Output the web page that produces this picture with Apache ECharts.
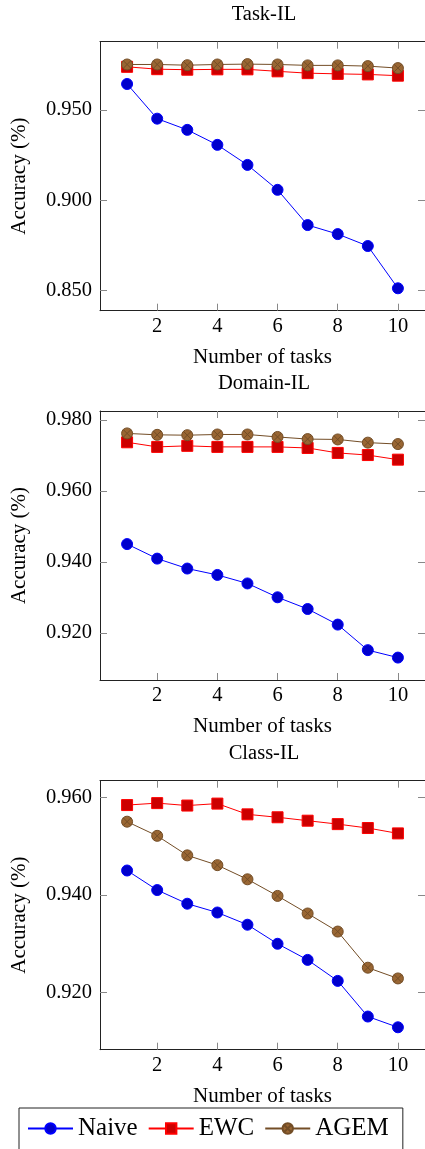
<!DOCTYPE html>
<html>
<head>
<meta charset="utf-8">
<script src="https://cdn.jsdelivr.net/npm/echarts@6.0.0/dist/echarts.min.js"></script>
<style>
html, body { margin: 0; padding: 0; background: #fff; }
#chart { width: 425px; height: 1149px; }
</style>
</head>
<body>
<div id="chart"></div>
<script>
// x values (number of tasks) and tick labels
const tasks = [1, 2, 3, 4, 5, 6, 7, 8, 9, 10];
const xTicks = [2, 4, 6, 8, 10];
const panelTitles = ['Task-IL', 'Domain-IL', 'Class-IL'];
const methodNames = ['Naive', 'EWC', 'AGEM'];

const yTicksTask = [0.85, 0.90, 0.95];
const yTicksDomain = [0.92, 0.94, 0.96, 0.98];
const yTicksClass = [0.92, 0.94, 0.96];

// Task-IL
const naiveTask = [0.9644, 0.9452, 0.9390, 0.9307, 0.9196, 0.9058, 0.8863, 0.8813, 0.8747, 0.8513];
const ewcTask = [0.9739, 0.9726, 0.9723, 0.9725, 0.9725, 0.9714, 0.9704, 0.9700, 0.9697, 0.9690];
const agemTask = [0.9752, 0.9752, 0.9748, 0.9752, 0.9754, 0.9752, 0.9747, 0.9747, 0.9743, 0.9732];

// Domain-IL
const naiveDomain = [0.9450, 0.9409, 0.9381, 0.9363, 0.9339, 0.9300, 0.9267, 0.9223, 0.9151, 0.9130];
const ewcDomain = [0.9737, 0.9724, 0.9727, 0.9724, 0.9724, 0.9724, 0.9721, 0.9707, 0.9701, 0.9688];
const agemDomain = [0.9762, 0.9758, 0.9757, 0.9759, 0.9759, 0.9752, 0.9746, 0.9745, 0.9736, 0.9732];

// Class-IL
const naiveClass = [0.9450, 0.9410, 0.9382, 0.9364, 0.9339, 0.9300, 0.9267, 0.9224, 0.9151, 0.9129];
const ewcClass = [0.9584, 0.9588, 0.9583, 0.9587, 0.9565, 0.9559, 0.9552, 0.9545, 0.9537, 0.9526];
const agemClass = [0.9550, 0.9521, 0.9481, 0.9461, 0.9432, 0.9398, 0.9362, 0.9325, 0.9251, 0.9229];

const FONT = 'Liberation Serif';
const gridTops = [41.7, 411, 780.7];
const gridH = 269;

const panels = [
    { ticks: yTicksTask, data: [naiveTask, ewcTask, agemTask] },
    { ticks: yTicksDomain, data: [naiveDomain, ewcDomain, agemDomain] },
    { ticks: yTicksClass, data: [naiveClass, ewcClass, agemClass] },
];

// pgfplots-like 10% enlargement of the data range
function padRange(arrays) {
    const all = [].concat(...arrays);
    const lo = Math.min(...all), hi = Math.max(...all);
    const pad = (hi - lo) * 0.1;
    return [lo - pad, hi + pad];
}

const otimes = 'path://M10,0A10,10,0,1,1,-10,0A10,10,0,1,1,10,0ZM-7.07,-7.07L7.07,7.07M7.07,-7.07L-7.07,7.07';
const styles = [
    { line: '#0000ff', fill: '#0000cc', symbol: 'circle', size: 11 },
    { line: '#ff0000', fill: '#cc0000', symbol: 'rect', size: 11 },
    { line: '#734d26', fill: '#996633', symbol: otimes, size: 11 },
];

const tickStyle = { show: true, inside: true, length: 7, lineStyle: { color: '#888', width: 1 } };
const lineStyle = { show: true, onZero: false, lineStyle: { color: '#222', width: 1 } };
const txt = (size) => ({ color: '#000', fontFamily: FONT, fontSize: size, fontWeight: 'normal' });

let grid = [], xAxis = [], yAxis = [], series = [];

panels.forEach((p, gi) => {
    grid.push({ left: 100, top: gridTops[gi], width: 328, height: gridH });
    const yr = padRange(p.data);
    // bottom + mirrored top x axis
    xAxis.push({
        type: 'value', gridIndex: gi, min: 0.1, max: 10.9, position: 'bottom',
        axisLine: lineStyle, splitLine: { show: false },
        axisTick: Object.assign({ customValues: xTicks }, tickStyle),
        axisLabel: Object.assign({ customValues: xTicks, margin: 5 }, txt(20.5)),
        name: 'Number of tasks', nameLocation: 'middle', nameGap: 36,
        nameTextStyle: txt(21)
    });
    xAxis.push({
        type: 'value', gridIndex: gi, min: 0.1, max: 10.9, position: 'top',
        axisLine: lineStyle, splitLine: { show: false },
        axisTick: Object.assign({ customValues: xTicks }, tickStyle),
        axisLabel: { show: false }
    });
    // left + mirrored right y axis
    yAxis.push({
        type: 'value', gridIndex: gi, min: yr[0], max: yr[1], position: 'left',
        axisLine: lineStyle, splitLine: { show: false },
        axisTick: Object.assign({ customValues: p.ticks }, tickStyle),
        axisLabel: Object.assign({
            customValues: p.ticks, margin: 8,
            formatter: v => v.toFixed(3)
        }, txt(20.5)),
        name: 'Accuracy (%)', nameLocation: 'middle', nameRotate: 90, nameGap: 70,
        nameTextStyle: txt(21)
    });
    yAxis.push({
        type: 'value', gridIndex: gi, min: yr[0], max: yr[1], position: 'right',
        axisLine: lineStyle, splitLine: { show: false },
        axisTick: Object.assign({ customValues: p.ticks }, tickStyle),
        axisLabel: { show: false }
    });
    p.data.forEach((arr, si) => {
        const s = styles[si];
        series.push({
            name: methodNames[si], type: 'line',
            xAxisIndex: gi * 2, yAxisIndex: gi * 2,
            data: tasks.map((t, i) => [t, arr[i]]),
            symbol: s.symbol, symbolSize: s.size, showAllSymbol: true,
            lineStyle: { color: s.line, width: 1 },
            itemStyle: { color: s.fill, borderColor: s.line, borderWidth: 1 },
            z: 2 + si
        });
    });
});

// panel titles, centred over the plot frame
const graphic = panelTitles.map((t, gi) => ({
    type: 'text', x: 264, y: gridTops[gi] - 27,
    style: { text: t, fill: '#000', font: '20.5px "Liberation Serif", serif', textAlign: 'center', textVerticalAlign: 'middle' }
}));

const chart = echarts.init(document.getElementById('chart'));
chart.setOption({
    animation: false,
    backgroundColor: '#fff',
    textStyle: { fontFamily: FONT },
    grid, xAxis, yAxis, series, graphic,
    legend: {
        data: methodNames,
        left: 19, top: 1108,
        orient: 'horizontal',
        itemWidth: 45, itemHeight: 13, itemGap: 10,
        padding: [8, 14, 20, 8],
        borderColor: '#222', borderWidth: 1,
        textStyle: txt(25)
    }
});
</script>
</body>
</html>
